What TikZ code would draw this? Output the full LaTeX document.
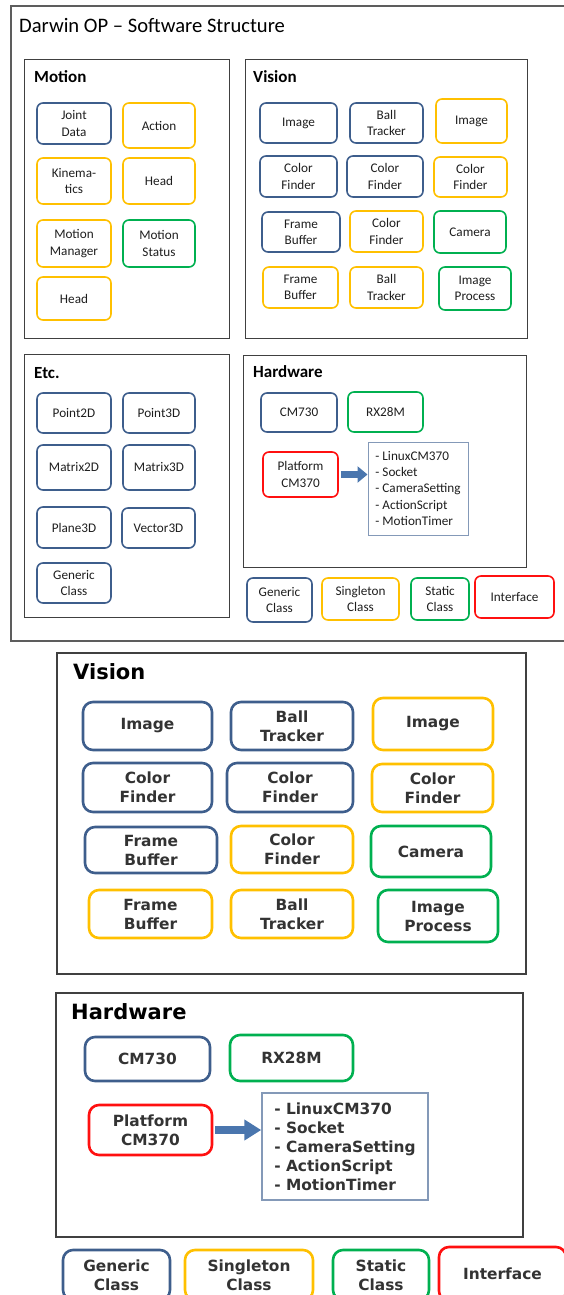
\documentclass[tikz,border=0pt]{standalone}
\usepackage{fontspec}
\setmainfont{Carlito}
\newfontfamily\wideface{DejaVu Sans}
\usetikzlibrary{arrows.meta}

\definecolor{genblue}{HTML}{3E5E8C}
\definecolor{singyellow}{HTML}{FFC000}
\definecolor{statgreen}{HTML}{00B050}
\definecolor{intfred}{HTML}{FF1010}
\definecolor{boxgray}{HTML}{404040}
\definecolor{listblue}{HTML}{8499B8}
\definecolor{arrblue}{HTML}{4A76AE}
\definecolor{txtdark}{HTML}{1E1E1E}

\newcommand\smalltxt{\fontsize{13.2}{16.3}\selectfont}
\newcommand\widetxt{\wideface\bfseries\fontsize{15.4}{19}\selectfont}

\tikzset{
  cls/.style={draw, rounded corners=6pt, line width=1.6pt, align=center,
    inner sep=0pt, text=txtdark, font=\smalltxt},
  gen/.style={cls, draw=genblue},
  sing/.style={cls, draw=singyellow},
  stat/.style={cls, draw=statgreen},
  intf/.style={cls, draw=intfred},
  wide/.style={rounded corners=10pt, line width=2.6pt, font=\widetxt, text=black!80},
  sz/.style 2 args={minimum width=#1pt, minimum height=#2pt},
  group/.style={draw=boxgray, line width=1pt},
  grouptitle/.style={anchor=base west, inner sep=0pt, font=\fontsize{17}{19}\selectfont\bfseries},
  listbox/.style={draw=listblue, line width=1pt, align=left, inner sep=0pt,
    text=txtdark, font=\smalltxt},
  blockarr/.style={draw=arrblue, line width=7pt, shorten <=2pt,
    -{Triangle[width=16pt,length=10pt]}},
}

\begin{document}
\begin{tikzpicture}[x=1pt,y=-1pt]
  \useasboundingbox (0,0) rectangle (564,1295);
  \clip (0,0) rectangle (564,1295);

  % Overview
  \draw[draw=boxgray!85, line width=1.2pt] (11,6) rectangle (590,641);
  \node[anchor=base west, inner sep=0pt, font=\fontsize{20.6}{24}\selectfont] (title) at (19,33)
    {Darwin OP -- Software Structure};

  % Motion
  \draw[group] (24,60) rectangle (229,338);
  \node[grouptitle] (motT) at (34,83) {Motion};
  \node[gen,  sz={74}{41}] (joint)   at (74,123.5) {Joint\\Data};
  \node[sing, sz={72}{45}] (action)  at (159,125.5) {Action};
  \node[sing, sz={74}{46}] (kinem)   at (74,181) {Kinema-\\tics};
  \node[sing, sz={72}{46}] (headA)   at (159,181) {Head};
  \node[sing, sz={74}{47}] (motman)  at (74,243.5) {Motion\\Manager};
  \node[stat, sz={72}{47}] (motstat) at (159,243.5) {Motion\\Status};
  \node[sing, sz={74}{43}] (headB)   at (74,298.5) {Head};

  % Vision
  \draw[group] (245,60) rectangle (527,338);
  \node[grouptitle] (visT) at (253,83) {Vision};
  \node[gen,  sz={77}{40}] (imgA)  at (298.5,123) {Image};
  \node[gen,  sz={73}{40}] (ballA) at (386.5,123) {Ball\\Tracker};
  \node[sing, sz={71}{44}] (imgB)  at (471.5,121) {Image};
  \node[gen,  sz={77}{41}] (colA)  at (298.5,176.5) {Color\\Finder};
  \node[gen,  sz={76}{41}] (colB)  at (385,176.5) {Color\\Finder};
  \node[sing, sz={73}{40}] (colC)  at (470.5,177) {Color\\Finder};
  \node[gen,  sz={78}{40}] (frmA)  at (301,232) {Frame\\Buffer};
  \node[sing, sz={73}{41}] (colD)  at (386.5,231.5) {Color\\Finder};
  \node[stat, sz={72}{42}] (cam)   at (470,232) {Camera};
  \node[sing, sz={75}{41}] (frmB)  at (300.5,287.5) {Frame\\Buffer};
  \node[sing, sz={73}{41}] (ballB) at (386.5,287.5) {Ball\\Tracker};
  \node[stat, sz={72}{43}] (improc) at (475,288.5) {Image\\Process};

  % Etc.
  \draw[group] (24,354) rectangle (229,617);
  \node[grouptitle] (etcT) at (34,378) {Etc.};
  \node[gen, sz={74}{40}] (pt2)  at (74,413) {Point2D};
  \node[gen, sz={72}{40}] (pt3)  at (159,413) {Point3D};
  \node[gen, sz={74}{45}] (mat2) at (74,467.5) {Matrix2D};
  \node[gen, sz={72}{45}] (mat3) at (159,467.5) {Matrix3D};
  \node[gen, sz={74}{41}] (pln3) at (74,527.5) {Plane3D};
  \node[gen, sz={73}{40}] (vec3) at (158.5,528) {Vector3D};
  \node[gen, sz={74}{40}] (gcls) at (74,583) {Generic\\Class};

  % Hardware
  \draw[group] (243,355) rectangle (526,567);
  \node[grouptitle] (hwT) at (253,377) {Hardware};
  \node[gen,  sz={76}{39}] (cmA)   at (299,412.5) {CM730};
  \node[stat, sz={75}{40}] (rxA)   at (385.5,412) {RX28M};
  \node[intf, sz={75}{45}] (platA) at (300.5,474.5) {Platform\\CM370};
  \node[listbox, sz={100}{93}] (listA) at (418,488.5)
    {- LinuxCM370\\- Socket\\- CameraSetting\\- ActionScript\\- MotionTimer};
  \draw[blockarr] (platA) -- (platA -| listA.west);

  % Legend
  \node[gen,  sz={65}{44}] (legGen)  at (279.5,600) {Generic\\Class};
  \node[sing, sz={77}{42}] (legSing) at (360.5,599) {Singleton\\Class};
  \node[stat, sz={58}{42}] (legStat) at (440,599) {Static\\Class};
  \node[intf, sz={79}{42}] (legIntf) at (514.5,597) {Interface};

  % Vision, enlarged
  \draw[group, line width=2pt] (57,653) rectangle (526,974);
  \node[grouptitle, font=\wideface\bfseries\fontsize{21}{24}\selectfont] (visT2) at (73,679) {Vision};
  \node[gen,  wide, sz={129}{48}] (imgC)  at (147.5,726) {Image};
  \node[gen,  wide, sz={122}{48}] (ballC) at (292,726) {Ball\\Tracker};
  \node[sing, wide, sz={120}{52}] (imgD)  at (433,724) {Image};
  \node[gen,  wide, sz={129}{49}] (colE)  at (147.5,787.5) {Color\\Finder};
  \node[gen,  wide, sz={126}{49}] (colF)  at (290,787.5) {Color\\Finder};
  \node[sing, wide, sz={121}{48}] (colG)  at (432.5,788) {Color\\Finder};
  \node[gen,  wide, sz={132}{46}] (frmC)  at (151,850) {Frame\\Buffer};
  \node[sing, wide, sz={122}{47}] (colH)  at (292,849.5) {Color\\Finder};
  \node[stat, wide, sz={120}{51}] (cam2)  at (431,851.5) {Camera};
  \node[sing, wide, sz={123}{48}] (frmD)  at (150.5,914) {Frame\\Buffer};
  \node[sing, wide, sz={122}{48}] (ballD) at (292,914) {Ball\\Tracker};
  \node[stat, wide, sz={120}{52}] (improc2) at (438,916) {Image\\Process};

  % Hardware, enlarged
  \draw[group, line width=2pt] (56,993) rectangle (523,1237);
  \node[grouptitle, font=\wideface\bfseries\fontsize{21}{24}\selectfont] (hwT2) at (71,1019) {Hardware};
  \node[gen,  wide, sz={125}{44}] (cmB)   at (147.5,1059) {CM730};
  \node[stat, wide, sz={123}{46}] (rxB)   at (291.5,1058) {RX28M};
  \node[intf, wide, sz={123}{50}] (platB) at (150.5,1130) {Platform\\CM370};
  \node[listbox, line width=1.5pt, font=\widetxt, text=black!80, sz={166}{107}] (listB) at (345,1146.5)
    {- LinuxCM370\\- Socket\\- CameraSetting\\- ActionScript\\- MotionTimer};
  \draw[blockarr, line width=8pt, -{Triangle[width=20pt,length=17pt]}] (platB) -- (platB -| listB.west);

  % Legend, enlarged
  \node[gen,  wide, sz={107}{50}] (legGen2)  at (116.5,1275) {Generic\\Class};
  \node[sing, wide, sz={128}{50}] (legSing2) at (249,1275) {Singleton\\Class};
  \node[stat, wide, sz={96}{50}]  (legStat2) at (381,1275) {Static\\Class};
  \node[intf, wide, sz={127}{54}] (legIntf2) at (502.5,1274) {Interface};
\end{tikzpicture}
\end{document}
